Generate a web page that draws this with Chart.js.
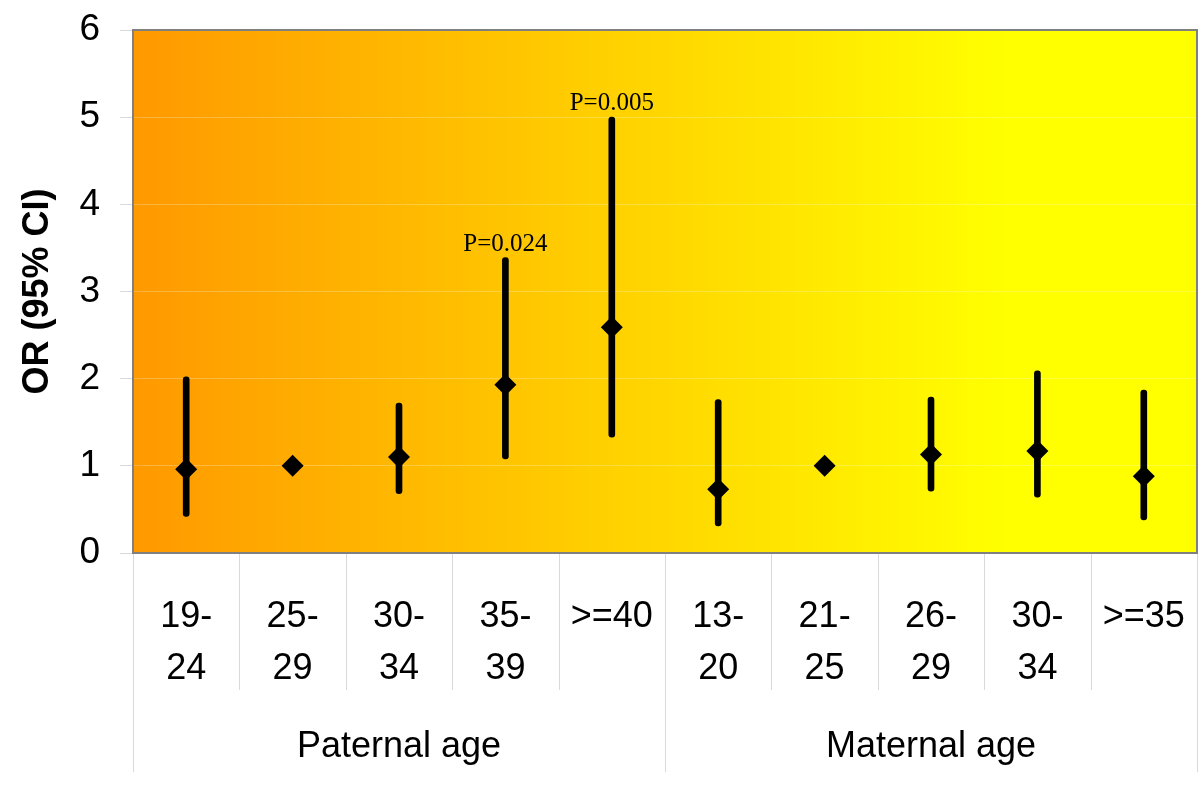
<!DOCTYPE html>
<html lang="en">
<head>
    <meta charset="UTF-8">
    <title>OR by parental age</title>
    <script src="https://cdn.jsdelivr.net/npm/chart.js"></script>
    <style>
        html, body { margin: 0; padding: 0; background: #fff; }
        #wrap { width: 1200px; height: 789px; }
    </style>
</head>
<body>
    <div id="wrap"><canvas id="chart" width="1200" height="789"></canvas></div>
    <script>
        // categories (two lines each) and their groups
        const categories = [
            ['19-', '24'], ['25-', '29'], ['30-', '34'], ['35-', '39'], ['>=40'],
            ['13-', '20'], ['21-', '25'], ['26-', '29'], ['30-', '34'], ['>=35']
        ];
        const groupNames = ['Paternal age', 'Maternal age'];
        const groupSizes = [5, 5];

        // odds ratio and 95% CI
        const orValues = [0.96, 1.0, 1.10, 1.93, 2.59, 0.73, 1.0, 1.13, 1.17, 0.88];
        const ciLow    = [0.42, null, 0.68, 1.08, 1.33, 0.31, null, 0.71, 0.64, 0.38];
        const ciHigh   = [2.02, null, 1.72, 3.39, 5.00, 1.76, null, 1.79, 2.09, 1.87];
        const pLabels  = [null, null, null, 'P=0.024', 'P=0.005', null, null, null, null, null];

        const yTicks = [0, 1, 2, 3, 4, 5, 6];

        const sansFont = "'Liberation Sans', Arial, sans-serif";

        const ciData = ciLow.map((lo, i) => (lo === null ? null : [lo, ciHigh[i]]));

        // gradient behind the plot area
        const backgroundPlugin = {
            id: 'bg',
            beforeDraw(chart) {
                const { ctx, chartArea: a } = chart;
                const g = ctx.createLinearGradient(a.left, 0, a.right, 0);
                g.addColorStop(0, '#FF9900');
                g.addColorStop(0.82, '#FFFF00');
                g.addColorStop(1, '#FFFF00');
                ctx.save();
                ctx.fillStyle = g;
                ctx.fillRect(a.left, a.top, a.right - a.left, a.bottom - a.top);
                ctx.restore();
            }
        };

        // frame, category separators, group labels, p-values
        const decorPlugin = {
            id: 'decor',
            afterDraw(chart) {
                const { ctx, chartArea: a } = chart;
                const x = chart.scales.x;
                const y = chart.scales.y;
                const step = x.getPixelForValue(1) - x.getPixelForValue(0);
                ctx.save();

                // frame
                ctx.strokeStyle = '#808080';
                ctx.lineWidth = 2;
                ctx.strokeRect(a.left, a.top, a.right - a.left, a.bottom - a.top);

                // separators under the axis
                ctx.strokeStyle = '#d9d9d9';
                ctx.lineWidth = 1;
                let start = 0;
                const groupEdges = [0];
                groupSizes.forEach(n => { start += n; groupEdges.push(start); });
                for (let i = 0; i <= categories.length; i++) {
                    const px = Math.round(x.getPixelForValue(i) - step / 2) + 0.5;
                    const isGroupEdge = groupEdges.includes(i);
                    ctx.beginPath();
                    ctx.moveTo(px, a.bottom + 1);
                    ctx.lineTo(px, isGroupEdge ? 772 : 690);
                    ctx.stroke();
                }

                // group labels
                ctx.fillStyle = '#000';
                ctx.font = '36px ' + sansFont;
                ctx.textAlign = 'center';
                ctx.textBaseline = 'middle';
                for (let g = 0; g < groupNames.length; g++) {
                    const first = groupEdges[g];
                    const last = groupEdges[g + 1] - 1;
                    const cx = (x.getPixelForValue(first) + x.getPixelForValue(last)) / 2;
                    ctx.fillText(groupNames[g], cx, 747);
                }

                // p-values above the upper CI limit
                ctx.font = "25px 'Liberation Serif', 'Times New Roman', serif";
                ctx.textBaseline = 'alphabetic';
                pLabels.forEach((p, i) => {
                    if (!p) return;
                    ctx.fillText(p, x.getPixelForValue(i), y.getPixelForValue(ciHigh[i]) - 7);
                });
                ctx.restore();
            }
        };

        new Chart(document.getElementById('chart'), {
            data: {
                labels: categories,
                datasets: [
                    {
                        type: 'line',
                        data: orValues,
                        showLine: false,
                        pointStyle: 'rectRot',
                        pointRadius: 11,
                        backgroundColor: '#000',
                        borderColor: '#000',
                        borderWidth: 0,
                        order: 0
                    },
                    {
                        type: 'bar',
                        data: ciData,
                        backgroundColor: '#000',
                        barThickness: 6,
                        borderRadius: 3,
                        borderSkipped: false,
                        grouped: false,
                        order: 1
                    }
                ]
            },
            options: {
                responsive: false,
                animation: false,
                layout: { autoPadding: false, padding: { top: 30, right: 3, left: 0, bottom: 0 } },
                plugins: {
                    legend: { display: false },
                    tooltip: { enabled: false }
                },
                scales: {
                    x: {
                        type: 'category',
                        offset: true,
                        grid: { display: false, drawTicks: false },
                        border: { display: false },
                        ticks: {
                            autoSkip: false,
                            maxRotation: 0,
                            minRotation: 0,
                            color: '#000',
                            padding: 38,
                            font: { size: 36, family: sansFont, lineHeight: 1.45 }
                        },
                        afterFit(scale) {
                            scale.height = 236;
                            scale.paddingLeft = 0;
                            scale.paddingRight = 0;
                        }
                    },
                    y: {
                        min: 0,
                        max: 6,
                        afterBuildTicks(scale) {
                            scale.ticks = yTicks.map(v => ({ value: v }));
                        },
                        grid: {
                            color: 'rgba(255,255,255,0.25)',
                            tickColor: '#d9d9d9',
                            tickLength: 13,
                            drawTicks: true
                        },
                        border: { display: false },
                        ticks: {
                            color: '#000',
                            padding: 20,
                            font: { size: 37, family: sansFont }
                        },
                        title: {
                            display: true,
                            text: 'OR (95% CI)',
                            color: '#000',
                            padding: { top: 16, bottom: 0 },
                            font: { size: 36, weight: 'bold', family: sansFont }
                        },
                        afterFit(scale) {
                            scale.width = 133;
                            scale.paddingTop = 0;
                            scale.paddingBottom = 0;
                        }
                    }
                }
            },
            plugins: [backgroundPlugin, decorPlugin]
        });
    </script>
</body>
</html>
